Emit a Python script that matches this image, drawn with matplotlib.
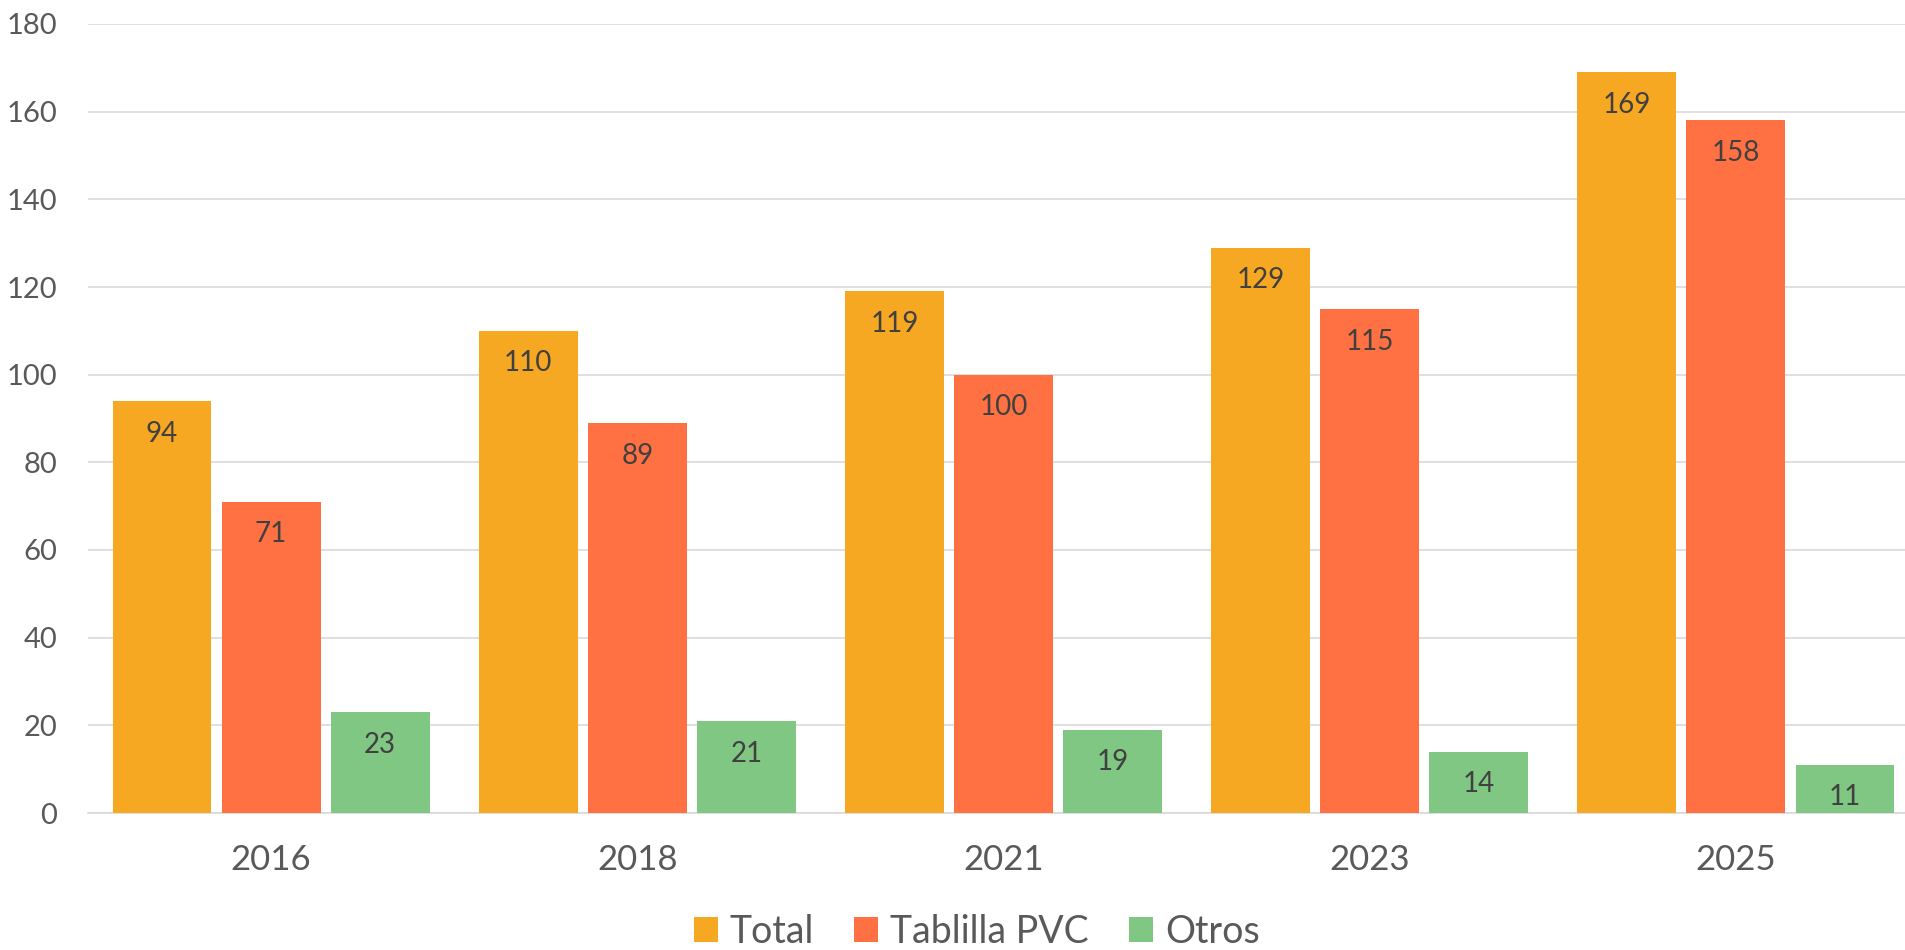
import matplotlib
matplotlib.use("Agg")
import matplotlib.pyplot as plt
import numpy as np

categories = ["2016", "2018", "2021", "2023", "2025"]
series_names = ["Total", "Tablilla PVC", "Otros"]
total = [94, 110, 119, 129, 169]
tablilla = [71, 89, 100, 115, 158]
otros = [23, 21, 19, 14, 11]
colors = ["#F7A823", "#FF7043", "#81C784"]

plt.rcParams['font.family'] = ['Lato', 'DejaVu Sans']

W, H = 1906, 950
fig = plt.figure(figsize=(W / 100, H / 100), dpi=100)
ax = fig.add_axes([88 / W, 1 - 813 / H, 1 - 88 / W, (813 - 24) / H])

x = np.arange(len(categories))
bw = 0.27
step = 0.298
for i, (vals, name, c) in enumerate(zip([total, tablilla, otros], series_names, colors)):
    pos = x + (i - 1) * step
    bars = ax.bar(pos, vals, width=bw, color=c, label=name, zorder=3)
    for b, v in zip(bars, vals):
        ax.annotate(str(v), (b.get_x() + b.get_width() / 2, v), xytext=(0, -23.5),
                    textcoords='offset points', ha='center', va='center',
                    fontsize=20, color='#404040', zorder=4)

ax.set_ylim(0, 180)
ax.set_yticks(range(0, 181, 20))
ax.set_xlim(-0.5, 4 + (1906 - 1736) / 366)
ax.set_xticks(x)
ax.set_xticklabels(categories)
ax.yaxis.grid(True, color='#D9D9D9', linewidth=1.2, zorder=0)
ax.set_axisbelow(True)
for s in ['top', 'right', 'left']:
    ax.spines[s].set_visible(False)
ax.spines['bottom'].set_color('#D9D9D9')
ax.spines['bottom'].set_linewidth(1.2)
ax.tick_params(axis='y', length=0, pad=22, labelsize=21, labelcolor='#595959')
ax.tick_params(axis='x', length=0, pad=22, labelsize=25, labelcolor='#595959')

leg = fig.legend(loc='center', bbox_to_anchor=(977 / W, 1 - 932 / H), ncol=3,
                 frameon=False, fontsize=27, handlelength=0.64, handleheight=0.64,
                 handletextpad=0.32, columnspacing=1.07, labelcolor='#595959',
                 borderaxespad=0, borderpad=0)

fig.savefig("out.png", dpi=100)
